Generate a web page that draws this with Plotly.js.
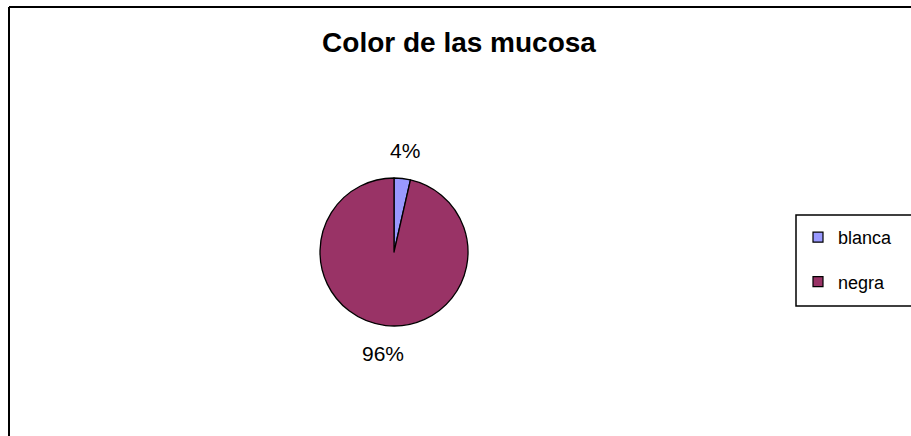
<!DOCTYPE html>
<html>
<head>
<meta charset="utf-8">
<script src="https://cdn.plot.ly/plotly-3.0.1.min.js"></script>
<style>html,body{margin:0;padding:0;background:#fff;}#chart{width:911px;height:436px;}</style>
</head>
<body>
<div id="chart"></div>
<script>
var categories = ['blanca', 'negra'];
var counts = [1, 27];
var sliceColors = ['#9999FF', '#993366'];
var chartTitle = 'Color de las mucosa';

var W = 911, H = 436;
function px(x){ return x / W; }
function py(y){ return 1 - y / H; }

var cx = 394, cy = 252, r = 74, labelR = 102;
var FONT = 'Liberation Sans, Arial, sans-serif';

var data = [{
  type: 'pie',
  labels: categories,
  values: counts,
  sort: false,
  direction: 'clockwise',
  rotation: 0,
  marker: { colors: sliceColors, line: { color: '#000', width: 1.3 } },
  textinfo: 'none',
  showlegend: false,
  domain: { x: [px(cx - r), px(cx + r)], y: [py(cy + r), py(cy - r)] }
}];

// legend entries (square markers) built from the same categories / colours
categories.forEach(function(c, i){
  data.push({
    type: 'scatter', mode: 'markers', x: [null], y: [null],
    name: c, legendgroup: 'g' + i, showlegend: true,
    marker: { symbol: 'square', size: 10, color: sliceColors[i], line: { color: '#000', width: 1.2 } },
    hoverinfo: 'skip'
  });
});

// percentage labels placed outside each slice at its mid-angle
var total = counts.reduce(function(a, b){ return a + b; }, 0);
var annotations = [];
var cum = 0;
counts.forEach(function(v){
  var mid = 2 * Math.PI * (cum + v / 2) / total;
  cum += v;
  annotations.push({
    xref: 'paper', yref: 'paper',
    x: px(cx + labelR * Math.sin(mid)), y: py(cy - labelR * Math.cos(mid)),
    xanchor: 'center', yanchor: 'middle', showarrow: false,
    text: Math.round(100 * v / total) + '%',
    font: { family: FONT, size: 21, color: '#000' }
  });
});

var layout = {
  width: W, height: H,
  margin: { l: 0, r: 0, t: 0, b: 0 },
  paper_bgcolor: '#fff',
  plot_bgcolor: '#fff',
  xaxis: { visible: false, domain: [0, 0.01] },
  yaxis: { visible: false, domain: [0, 0.01] },
  title: {
    text: chartTitle,
    font: { family: FONT, size: 28, color: '#000', weight: 'bold' },
    x: px(459), xref: 'paper', xanchor: 'center',
    y: py(42), yref: 'paper', yanchor: 'middle'
  },
  showlegend: true,
  legend: {
    x: px(798), xanchor: 'left',
    y: py(219), yanchor: 'top',
    traceorder: 'grouped',
    tracegroupgap: 18,
    bgcolor: 'rgba(0,0,0,0)',
    borderwidth: 0,
    font: { family: FONT, size: 18, color: '#000' }
  },
  annotations: annotations,
  shapes: [
    { type: 'line', xref: 'paper', yref: 'paper', x0: px(9), x1: px(9), y0: -0.02, y1: py(7), line: { color: '#000', width: 2 } },
    { type: 'line', xref: 'paper', yref: 'paper', x0: px(9), x1: 1.02, y0: py(7), y1: py(7), line: { color: '#000', width: 2 } },
    { type: 'rect', xref: 'paper', yref: 'paper', x0: px(796), x1: 1.05, y0: py(306), y1: py(215), line: { color: '#000', width: 1.5 } }
  ]
};

Plotly.newPlot('chart', data, layout, { displayModeBar: false, staticPlot: true });
</script>
</body>
</html>
